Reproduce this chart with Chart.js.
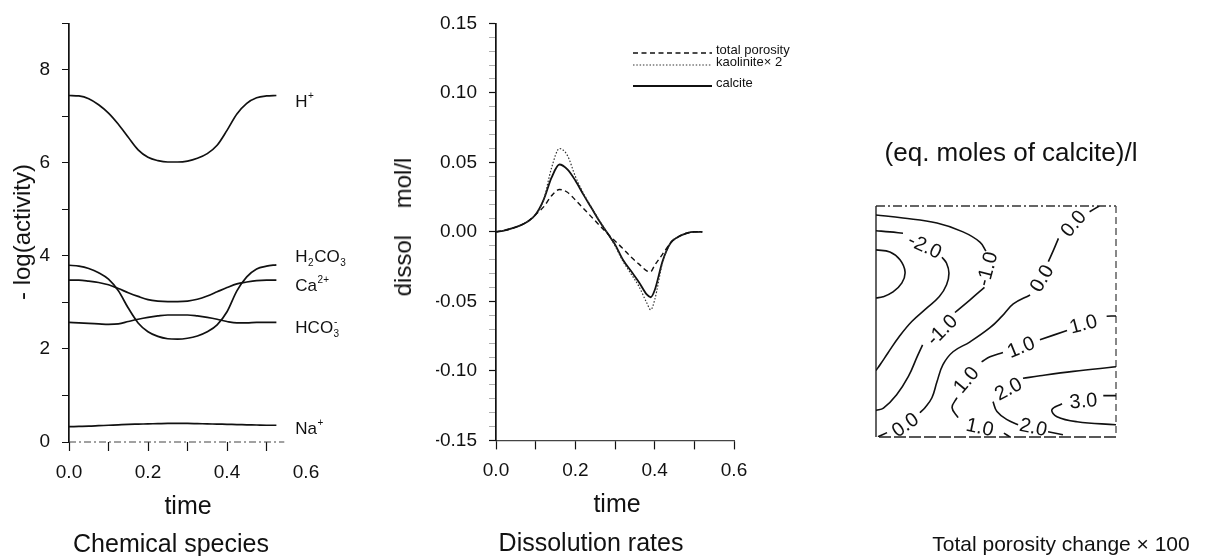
<!DOCTYPE html>
<html>
<head>
<meta charset="utf-8">
<title>Chemical species, dissolution rates and porosity change</title>
<script src="https://cdn.jsdelivr.net/npm/chart.js@4.4.1/dist/chart.umd.min.js"></script>
<style>
  html, body { margin: 0; padding: 0; background: #fff; }
  #page { position: relative; width: 1206px; height: 556px; overflow: hidden;
          font-family: "Liberation Sans", Arial, sans-serif; color: #111; }
  #page canvas { position: absolute; top: 0; }
  .txt { position: absolute; white-space: nowrap; line-height: 1;
         transform: translate(-50%, -50%); }
  .vtxt { transform: translate(-50%, -50%) rotate(-90deg); }
</style>
</head>
<body>
<div id="page">
  <canvas id="species" width="380" height="556" style="left:0px"></canvas>
  <canvas id="rates" width="420" height="556" style="left:380px"></canvas>
  <canvas id="porosity" width="406" height="556" style="left:800px"></canvas>

  <div class="txt vtxt" style="left:22px; top:232px; font-size:24px;">- log(activity)</div>
  <div class="txt" style="left:188px; top:505px; font-size:25px;">time</div>
  <div class="txt" style="left:171px; top:543px; font-size:25px;">Chemical species</div>

  <div class="txt vtxt" style="left:403px; top:227px; font-size:24px;">dissol&nbsp;&nbsp;&nbsp;&nbsp;mol/l</div>
  <div class="txt" style="left:617px; top:503px; font-size:25px;">time</div>
  <div class="txt" style="left:591px; top:542px; font-size:25px;">Dissolution rates</div>

  <div class="txt" style="left:1011px; top:152px; font-size:26px;">(eq. moles of calcite)/l</div>
  <div class="txt" style="left:1061px; top:543px; font-size:21px;">Total porosity change × 100</div>
</div>

<script>
// ---------------- data: chemical species (-log activity vs time) ----------------
const speciesTime = [0, 0.025, 0.05, 0.075, 0.1, 0.125, 0.15, 0.175, 0.2, 0.225, 0.25,
                     0.275, 0.3, 0.325, 0.35, 0.375, 0.4, 0.425, 0.45, 0.475, 0.5, 0.525];
const hPlus  = [7.45, 7.44, 7.38, 7.25, 7.07, 6.83, 6.55, 6.28, 6.12, 6.05, 6.02,
                6.02, 6.04, 6.10, 6.20, 6.38, 6.70, 7.05, 7.28, 7.40, 7.44, 7.45];
const h2co3  = [3.80, 3.78, 3.73, 3.64, 3.50, 3.25, 2.88, 2.56, 2.37, 2.27, 2.22,
                2.21, 2.23, 2.28, 2.37, 2.52, 2.80, 3.25, 3.55, 3.72, 3.78, 3.81];
const ca2    = [3.48, 3.48, 3.46, 3.43, 3.38, 3.30, 3.21, 3.13, 3.06, 3.03, 3.02,
                3.02, 3.03, 3.07, 3.14, 3.23, 3.32, 3.40, 3.44, 3.47, 3.48, 3.48];
const hco3   = [2.57, 2.56, 2.55, 2.54, 2.53, 2.54, 2.59, 2.64, 2.68, 2.71, 2.73,
                2.73, 2.73, 2.71, 2.68, 2.64, 2.59, 2.56, 2.56, 2.57, 2.57, 2.57];
const naPlus = [0.33, 0.335, 0.34, 0.35, 0.36, 0.37, 0.38, 0.385, 0.39, 0.395, 0.40,
                0.40, 0.40, 0.395, 0.39, 0.385, 0.38, 0.375, 0.37, 0.365, 0.36, 0.36];

// ---------------- data: dissolution rates (mol/l) ----------------
const rateTime  = [0, 0.02, 0.04, 0.06, 0.08, 0.10, 0.12, 0.14, 0.16, 0.18, 0.20, 0.22, 0.24, 0.26,
                   0.28, 0.30, 0.32, 0.34, 0.36, 0.38, 0.39, 0.40, 0.42, 0.44, 0.46, 0.48, 0.50, 0.52];
const totalPorosity = [0, 0.001, 0.0025, 0.0045, 0.0075, 0.0125, 0.018, 0.026, 0.0305, 0.0285, 0.023, 0.017, 0.011, 0.005,
                   -0.001, -0.0065, -0.012, -0.018, -0.023, -0.028, -0.0285, -0.024, -0.016, -0.008, -0.0035, -0.001, 0, 0];
const kaoliniteX2 = [0, 0.001, 0.0025, 0.0045, 0.0075, 0.0125, 0.023, 0.046, 0.060, 0.055, 0.040, 0.028, 0.018, 0.0085,
                   -0.0005, -0.010, -0.021, -0.030, -0.039, -0.051, -0.056, -0.049, -0.022, -0.008, -0.0035, -0.001, 0, 0];
const calcite   = [0, 0.001, 0.0025, 0.0045, 0.0075, 0.0125, 0.023, 0.039, 0.0485, 0.045, 0.037, 0.027, 0.0175, 0.008,
                   -0.0005, -0.009, -0.020, -0.028, -0.036, -0.045, -0.047, -0.042, -0.021, -0.008, -0.0035, -0.001, 0, 0];

// ---------------- tick labels ----------------
const timeTickLabels     = ['0.0', '0.2', '0.4', '0.6'];
const activityTickLabels = ['0', '2', '4', '6', '8'];
const rateTickLabels     = ['-0.15', '-0.10', '-0.05', '0.00', '0.05', '0.10', '0.15'];

// ---------------- data: porosity change contours (unit square, segments split at labels) ----------------
const contourM3 = [[[0, 0.810], [0.058, 0.801], [0.100, 0.767], [0.121, 0.715], [0.108, 0.667],
                    [0.071, 0.628], [0.029, 0.607], [0, 0.602]]];
const contourM2 = [[[0, 0.893], [0.058, 0.888], [0.1125, 0.882]],
                   [[0.275, 0.778], [0.294, 0.752], [0.304, 0.709], [0.294, 0.659], [0.264, 0.608], [0.211, 0.558],
                    [0.149, 0.500], [0.097, 0.435], [0.051, 0.366], [0.019, 0.316], [0, 0.288]]];
const contourM1 = [[[0, 0.961], [0.1125, 0.948], [0.254, 0.926], [0.3625, 0.888], [0.433, 0.844], [0.458, 0.805]],
                   [[0.452, 0.648], [0.392, 0.594], [0.329, 0.539]],
                   [[0.194, 0.399], [0.172, 0.349], [0.135, 0.262], [0.086, 0.183], [0.031, 0.125], [0, 0.115]]];
const contour0  = [[[0.93, 1.0], [0.89, 0.975]],
                   [[0.760, 0.860], [0.740, 0.810], [0.718, 0.759]],
                   [[0.642, 0.615], [0.572, 0.576], [0.524, 0.522], [0.475, 0.473], [0.392, 0.412], [0.321, 0.369],
                    [0.279, 0.313], [0.254, 0.239], [0.233, 0.170], [0.204, 0.127], [0.183, 0.105]],
                   [[0.046, 0.019], [0.008, 0.001]]];
const contour1  = [[[1.0, 0.524], [0.961, 0.523]],
                   [[0.796, 0.461], [0.683, 0.421]],
                   [[0.529, 0.366], [0.475, 0.347], [0.440, 0.325]],
                   [[0.3375, 0.170], [0.317, 0.127], [0.342, 0.084]],
                   [[0.533, 0.017], [0.558, 0.0]]];
const contour2  = [[[1.0, 0.304], [0.822, 0.284], [0.683, 0.265], [0.6125, 0.254]],
                   [[0.4875, 0.153], [0.504, 0.110], [0.546, 0.075], [0.592, 0.053]],
                   [[0.717, 0.023], [0.779, 0.010]]];
const contour3  = [[[1.0, 0.179], [0.947, 0.179]],
                   [[0.775, 0.144], [0.733, 0.118], [0.754, 0.088], [0.8375, 0.066], [1.0, 0.053]]];
const contourLabelText = ['-2.0', '-1.0', '-1.0', '0.0', '0.0', '0.0', '1.0', '1.0', '1.0', '1.0', '2.0', '2.0', '3.0'];

// ---------------- layout of inline labels ----------------
const speciesLabelLayout = [
  { parts: [['H', ''], ['+', 'sup']], t: 0.573, v: 7.34 },
  { parts: [['H', ''], ['2', 'sub'], ['CO', ''], ['3', 'sub']], t: 0.573, v: 4.00 },
  { parts: [['Ca', ''], ['2+', 'sup']], t: 0.573, v: 3.38 },
  { parts: [['HCO', ''], ['3', 'sub', '-']], t: 0.573, v: 2.48 },
  { parts: [['Na', ''], ['+', 'sup']], t: 0.573, v: 0.30 }
];
const contourLabelLayout = [
  { u: 0.204, v: 0.827, angle: 25 }, { u: 0.4625, v: 0.728, angle: -75 }, { u: 0.274, v: 0.464, angle: -45 },
  { u: 0.822, v: 0.925, angle: -50 }, { u: 0.690, v: 0.687, angle: -60 }, { u: 0.121, v: 0.053, angle: -35 },
  { u: 0.864, v: 0.490, angle: -15 }, { u: 0.604, v: 0.390, angle: -22 }, { u: 0.375, v: 0.248, angle: -50 },
  { u: 0.433, v: 0.043, angle: 12 }, { u: 0.551, v: 0.209, angle: -28 }, { u: 0.656, v: 0.043, angle: 12 },
  { u: 0.864, v: 0.157, angle: -5 }
];

// ---------------- shared styling ----------------
const INK = '#111';
const FONT = '"Liberation Sans", Arial, sans-serif';
const AXIS_DASH = [7, 3, 2, 3];
Chart.defaults.font.family = FONT;
Chart.defaults.color = INK;
Chart.defaults.animation = false;

const xy = (xs, ys) => xs.map((x, i) => ({ x: x, y: ys[i] }));
const segmentsToPoints = (segs) => {
  const pts = [];
  segs.forEach((seg, i) => {
    if (i > 0) pts.push({ x: seg[0][0], y: null });
    seg.forEach(p => pts.push({ x: p[0], y: p[1] }));
  });
  return pts;
};

// time axis shared by the two line panels; lastTick limits the drawn tick marks
function timeAxis(height, showBorder, lastTick) {
  return {
    type: 'linear', min: 0, max: 0.6,
    afterFit: s => { s.height = height; },
    border: { display: showBorder, color: '#444', width: 1.2, dash: AXIS_DASH },
    grid: {
      display: true, drawOnChartArea: false, drawTicks: true, tickLength: 9, color: INK, tickWidth: 1.2,
      tickColor: c => (c.tick && c.tick.value > lastTick + 1e-6) ? 'rgba(0,0,0,0)' : INK
    },
    ticks: {
      stepSize: 0.1, autoSkip: false, maxRotation: 0, padding: 10,
      font: { size: 19 }, color: INK,
      callback: v => { const s = (Math.round(v * 10) / 10).toFixed(1); return timeTickLabels.includes(s) ? s : ''; }
    }
  };
}

// ---------------- chemical species ----------------
const speciesLabelsPlugin = {
  id: 'speciesLabels',
  beforeDatasetsDraw(chart) {
    // dash-dot time axis, ending just past the last tick mark
    const { ctx, scales, chartArea } = chart;
    ctx.save();
    ctx.beginPath();
    ctx.setLineDash(AXIS_DASH);
    ctx.lineWidth = 1.2;
    ctx.strokeStyle = '#444';
    ctx.moveTo(scales.x.getPixelForValue(0), chartArea.bottom);
    ctx.lineTo(scales.x.getPixelForValue(0.545), chartArea.bottom);
    ctx.stroke();
    ctx.restore();
  },
  afterDatasetsDraw(chart) {
    const { ctx, scales } = chart;
    ctx.save();
    ctx.fillStyle = INK;
    ctx.textBaseline = 'alphabetic';
    speciesLabelLayout.forEach(l => {
      let px = scales.x.getPixelForValue(l.t);
      const base = scales.y.getPixelForValue(l.v) + 6;
      l.parts.forEach(([txt, kind, extra]) => {
        if (kind === '') {
          ctx.font = '17px ' + FONT;
          ctx.fillText(txt, px, base);
          px += ctx.measureText(txt).width;
        } else {
          ctx.font = '10px ' + FONT;
          const dy = kind === 'sup' ? -8 : 4;
          ctx.fillText(txt, px + 0.5, base + dy);
          let w = ctx.measureText(txt).width;
          if (extra) {
            ctx.fillText(extra, px + 1, base - 8);
            w = Math.max(w, ctx.measureText(extra).width);
          }
          px += w + 1;
        }
      });
    });
    ctx.restore();
  }
};

const speciesLine = (data) => ({
  data: xy(speciesTime, data), borderColor: INK, borderWidth: 1.7,
  pointRadius: 0, cubicInterpolationMode: 'monotone', fill: false
});

new Chart(document.getElementById('species'), {
  type: 'line',
  data: { datasets: [speciesLine(hPlus), speciesLine(h2co3), speciesLine(ca2), speciesLine(hco3), speciesLine(naPlus)] },
  options: {
    responsive: false, devicePixelRatio: 1,
    layout: { padding: { left: 27, right: 74, top: 21.25, bottom: 0 } },
    plugins: { legend: { display: false }, tooltip: { enabled: false } },
    scales: {
      x: timeAxis(114, false, 0.5),
      y: {
        type: 'linear', min: 0, max: 9,
        afterFit: s => { s.width = 42; },
        border: { display: true, color: INK, width: 1.7 },
        grid: { display: true, drawOnChartArea: false, drawTicks: true, tickLength: 7, tickColor: INK },
        ticks: {
          stepSize: 1, autoSkip: false, padding: 12, font: { size: 19 }, color: INK,
          callback: v => { const s = String(Math.round(v)); return activityTickLabels.includes(s) ? s : ''; }
        }
      }
    }
  },
  plugins: [speciesLabelsPlugin]
});

// ---------------- dissolution rates ----------------
const rateLegendPlugin = {
  id: 'rateLegend',
  afterDatasetsDraw(chart) {
    const { ctx } = chart;
    const rows = [
      { ds: chart.data.datasets[0], text: 'total porosity', y: 53 },
      { ds: chart.data.datasets[1], text: 'kaolinite\u00d7 2', y: 65 },
      { ds: chart.data.datasets[2], text: 'calcite', y: 86 }
    ];
    ctx.save();
    rows.forEach(r => {
      ctx.beginPath();
      ctx.setLineDash(r.ds.borderDash || []);
      ctx.lineWidth = r.ds.borderWidth;
      ctx.strokeStyle = r.ds.borderColor;
      ctx.moveTo(253, r.y);
      ctx.lineTo(332, r.y);
      ctx.stroke();
      ctx.setLineDash([]);
      ctx.fillStyle = INK;
      ctx.font = '13px ' + FONT;
      ctx.textBaseline = 'middle';
      ctx.fillText(r.text, 336, r.y - 3);
    });
    ctx.restore();
  }
};

new Chart(document.getElementById('rates'), {
  type: 'line',
  data: {
    datasets: [
      { data: xy(rateTime, totalPorosity), borderColor: INK, borderWidth: 1.4, borderDash: [5, 3.5],
        pointRadius: 0, cubicInterpolationMode: 'monotone', fill: false },
      { data: xy(rateTime, kaoliniteX2), borderColor: '#333', borderWidth: 1.2, borderDash: [1.5, 1.8],
        pointRadius: 0, cubicInterpolationMode: 'monotone', fill: false },
      { data: xy(rateTime, calcite), borderColor: INK, borderWidth: 1.8,
        pointRadius: 0, cubicInterpolationMode: 'monotone', fill: false }
    ]
  },
  options: {
    responsive: false, devicePixelRatio: 1,
    layout: { padding: { left: 56, right: 66, top: 21.6, bottom: 0 } },
    plugins: { legend: { display: false }, tooltip: { enabled: false } },
    scales: {
      x: timeAxis(115.6, true, 0.6),
      y: {
        type: 'linear', min: -0.15, max: 0.15,
        afterFit: s => { s.width = 60; },
        border: { display: true, color: INK, width: 1.7 },
        grid: {
          display: true, drawOnChartArea: false, drawTicks: true, tickLength: 7,
          tickColor: c => (c.tick && Math.round(c.tick.value * 100) % 5 === 0) ? INK : '#9a9a9a',
          tickWidth: c => (c.tick && Math.round(c.tick.value * 100) % 5 === 0) ? 1.2 : 0.8
        },
        ticks: {
          stepSize: 0.01, autoSkip: false, padding: 12, font: { size: 19 }, color: INK,
          callback: v => { const s = (Math.round(v * 100) / 100).toFixed(2); return rateTickLabels.includes(s) ? s : ''; }
        }
      }
    }
  },
  plugins: [rateLegendPlugin]
});

// ---------------- total porosity change contours ----------------
const contourFramePlugin = {
  id: 'contourFrame',
  beforeDatasetsDraw(chart) {
    const { ctx, chartArea: a } = chart;
    const side = (x1, y1, x2, y2, dash, color) => {
      ctx.beginPath();
      ctx.setLineDash(dash);
      ctx.strokeStyle = color;
      ctx.moveTo(x1, y1); ctx.lineTo(x2, y2); ctx.stroke();
    };
    ctx.save();
    ctx.lineWidth = 1.4;
    side(a.left, a.top, a.right, a.top, [9, 3, 2, 3], '#333');
    side(a.right, a.top, a.right, a.bottom, [7, 4], '#555');
    side(a.right, a.bottom, a.left, a.bottom, [12, 3], '#222');
    side(a.left, a.bottom, a.left, a.top, [], '#222');
    ctx.restore();
  },
  afterDatasetsDraw(chart) {
    const { ctx, scales } = chart;
    ctx.save();
    ctx.fillStyle = INK;
    ctx.font = '20px ' + FONT;
    ctx.textAlign = 'center';
    ctx.textBaseline = 'middle';
    contourLabelLayout.forEach((l, i) => {
      ctx.save();
      ctx.translate(scales.x.getPixelForValue(l.u), scales.y.getPixelForValue(l.v));
      ctx.rotate(l.angle * Math.PI / 180);
      ctx.fillText(contourLabelText[i], 0, 1);
      ctx.restore();
    });
    ctx.restore();
  }
};

const contourLine = (segs) => ({
  data: segmentsToPoints(segs), borderColor: INK, borderWidth: 1.6,
  pointRadius: 0, tension: 0.4, spanGaps: false, fill: false
});

new Chart(document.getElementById('porosity'), {
  type: 'line',
  data: {
    datasets: [contourLine(contourM3), contourLine(contourM2), contourLine(contourM1), contourLine(contour0),
               contourLine(contour1), contourLine(contour2), contourLine(contour3)]
  },
  options: {
    responsive: false, devicePixelRatio: 1,
    layout: { padding: { left: 76, right: 90, top: 206, bottom: 119 } },
    plugins: { legend: { display: false }, tooltip: { enabled: false } },
    scales: {
      x: { type: 'linear', min: 0, max: 1, display: false },
      y: { type: 'linear', min: 0, max: 1, display: false }
    }
  },
  plugins: [contourFramePlugin]
});
</script>
</body>
</html>
